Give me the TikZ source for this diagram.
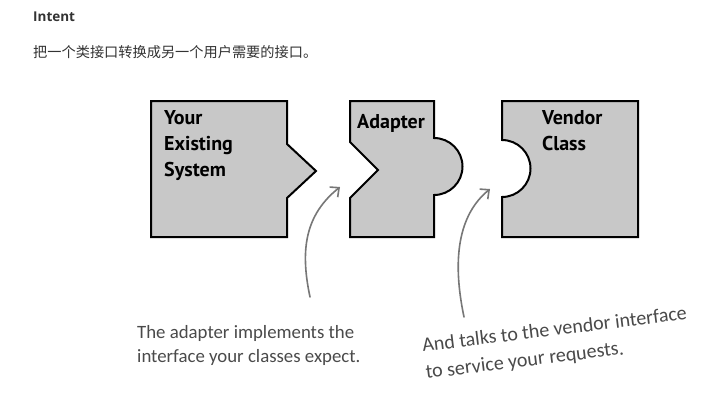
\documentclass[tikz,border=0pt]{standalone}
\usepackage{fontspec}
\usetikzlibrary{arrows.meta}
\setmainfont{Open Sans}
\newfontfamily\cjk{Noto Sans CJK SC}
\newfontfamily\boxfont{PT Sans}
\newfontfamily\handfont{Carlito}
\definecolor{piece}{HTML}{C8C8C8}
\definecolor{note}{HTML}{4A4A4A}
\definecolor{pointer}{HTML}{777777}
\definecolor{headtext}{HTML}{333333}
\tikzset{
  piecebox/.style={draw=black, line width=2pt, fill=piece, line join=miter},
  piecelabel/.style={font=\boxfont\bfseries\fontsize{20}{26}\selectfont, text=black, inner sep=0pt, align=left},
  notetext/.style={font=\handfont\fontsize{18.8}{24}\selectfont, text=note, inner sep=0pt, align=left},
  pointerarrow/.style={draw=pointer, line width=1.6pt, line cap=round, -{Straight Barb[length=7pt,width=13pt,line width=1.6pt]}}
}
\begin{document}
\begin{tikzpicture}[x=1pt,y=-1pt]
\path[fill=white] (0,0) rectangle (727,408);
\useasboundingbox (0,0) rectangle (727,408);
% header
\node[anchor=west, inner sep=0pt, font=\bfseries\fontsize{13.5}{16}\selectfont, text=headtext] (intent) at (33,17) {Intent};
\node[anchor=west, inner sep=0pt, font=\cjk\fontsize{14.2}{16}\selectfont, text=headtext] (desc) at (33,52) {把一个类接口转换成另一个用户需要的接口。};
% pieces
\path[piecebox] (151,101) -- (287,101) -- (287,144) -- (316,171) -- (287,198) -- (287,237) -- (151,237) -- cycle;
\path[piecebox] (350,101) -- (434,101) -- (434,138) arc[start angle=-90, end angle=90, radius=28.5] -- (434,237) -- (350,237) -- (350,198) -- (378,170) -- (350,142) -- cycle;
\path[piecebox] (502,101) -- (638,101) -- (638,237) -- (502,237) -- (502,197) arc[start angle=90, end angle=-90, radius=28.5] -- cycle;
% labels
\node[piecelabel, anchor=north west] (sys) at (164,110) {Your\\Existing\\System};
\node[piecelabel, anchor=north west] (adp) at (357,114) {Adapter};
\node[piecelabel, anchor=north west] (vnd) at (542,110) {Vendor\\Class};
% notes
\node[notetext, anchor=west] (note1) at (137,345) {The adapter implements the\\interface your classes expect.};
\node[notetext, anchor=west, rotate=7, font=\handfont\fontsize{20}{27}\selectfont] (note2) at (424,360) {And talks to the vendor interface\\to service your requests.};
% pointers
\coordinate (p1s) at (310,297);
\coordinate (p1e) at (340,187);
\coordinate (p2s) at (464,317);
\coordinate (p2e) at (490,189);
\draw[pointerarrow] (p1s) .. controls (300,250) and (305,215) .. (p1e);
\draw[pointerarrow] (p2s) .. controls (452,260) and (458,215) .. (p2e);
\end{tikzpicture}
\end{document}
